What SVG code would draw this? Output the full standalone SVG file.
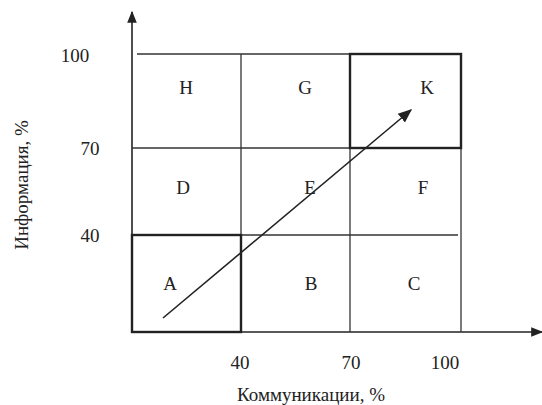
<svg xmlns="http://www.w3.org/2000/svg" width="542" height="405" viewBox="0 0 542 405">
<style>
text{font-family:"Liberation Serif","Times New Roman",serif;font-size:19px;fill:#222;}
.c{text-anchor:middle;}
.g{stroke:#333;stroke-width:1.3;fill:none;}
.t{stroke:#222;stroke-width:2.4;fill:none;}
.ax{stroke:#222;stroke-width:1.6;fill:none;}
</style>
<defs>
<marker id="ah" viewBox="0 0 10 10" refX="9" refY="5" markerWidth="12" markerHeight="12" markerUnits="userSpaceOnUse" orient="auto">
<path d="M0,1 L10,5 L0,9 Z" fill="#222"/>
</marker>
<marker id="ah2" viewBox="0 0 10 10" refX="9" refY="5" markerWidth="14" markerHeight="14" markerUnits="userSpaceOnUse" orient="auto">
<path d="M0,1 L10,5 L0,9 Z" fill="#222"/>
</marker>
</defs>
<g id="connectors">
<line class="ax" x1="132" y1="332" x2="132" y2="12" marker-end="url(#ah)"/>
<line class="ax" x1="132" y1="332" x2="542" y2="332" marker-end="url(#ah)"/>
<line class="g" x1="137" y1="54" x2="461" y2="54"/>
<line class="g" x1="132" y1="148" x2="461" y2="148"/>
<line class="g" x1="132" y1="235" x2="458" y2="235"/>
<line class="g" x1="241" y1="54" x2="241" y2="332"/>
<line class="g" x1="350" y1="54" x2="350" y2="332"/>
<line class="g" x1="461" y1="54" x2="461" y2="332"/>
<rect class="t" x="132" y="235" width="109" height="97"/>
<rect class="t" x="350" y="54" width="111" height="94"/>
<line stroke="#222" stroke-width="1.6" x1="163" y1="318" x2="411" y2="110" marker-end="url(#ah2)"/>
</g>
<g id="H"><text class="c" x="186" y="94">H</text></g>
<g id="G"><text class="c" x="305" y="94">G</text></g>
<g id="K"><text class="c" x="427" y="94">K</text></g>
<g id="D"><text class="c" x="183" y="194">D</text></g>
<g id="E"><text class="c" x="310" y="194">E</text></g>
<g id="F"><text class="c" x="423" y="194">F</text></g>
<g id="A"><text class="c" x="170" y="290">A</text></g>
<g id="B"><text class="c" x="311" y="290">B</text></g>
<g id="C"><text class="c" x="414" y="290">C</text></g>
<g id="labels">
<text class="c" x="75" y="62">100</text>
<text class="c" x="90" y="155">70</text>
<text class="c" x="90" y="242">40</text>
<text class="c" x="240" y="369">40</text>
<text class="c" x="351" y="369">70</text>
<text class="c" x="445" y="369">100</text>
<text class="c" x="311" y="401">Коммуникации, %</text>
<text class="c" transform="translate(28,185) rotate(-90)">Информация, %</text>
</g>
</svg>
